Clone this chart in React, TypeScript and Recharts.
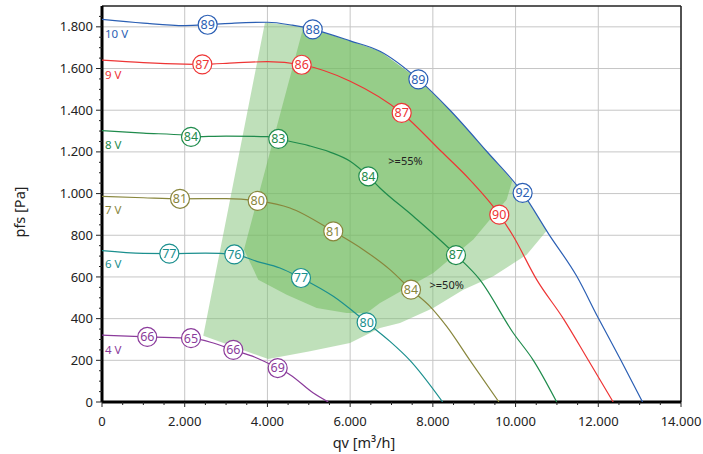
import React from "react";
import {
  ComposedChart,
  Scatter,
  XAxis,
  YAxis,
  CartesianGrid,
  ReferenceLine,
} from "recharts";

const FONT = "'Noto Sans', 'Open Sans', sans-serif";

// fan curves, qv [m3/h] -> pfs [Pa]
const curve10V = [
  { x: 0, y: 1836 }, { x: 1000, y: 1818 }, { x: 2000, y: 1806 }, { x: 2555, y: 1810 },
  { x: 3200, y: 1818 }, { x: 4000, y: 1822 }, { x: 4600, y: 1808 }, { x: 5095, y: 1788 },
  { x: 6000, y: 1733 }, { x: 6721, y: 1683 }, { x: 7650, y: 1548 }, { x: 8415, y: 1400 },
  { x: 9300, y: 1203 }, { x: 10170, y: 1003 }, { x: 10810, y: 803 }, { x: 11480, y: 603 },
  { x: 12000, y: 403 }, { x: 12540, y: 203 }, { x: 13070, y: 0 },
];
const curve9V = [
  { x: 0, y: 1640 }, { x: 1000, y: 1628 }, { x: 2000, y: 1621 }, { x: 2425, y: 1620 },
  { x: 3200, y: 1627 }, { x: 4000, y: 1633 }, { x: 4828, y: 1618 }, { x: 6000, y: 1539 },
  { x: 7246, y: 1387 }, { x: 8200, y: 1203 }, { x: 8897, y: 1066 }, { x: 9606, y: 899 },
  { x: 9945, y: 795 }, { x: 10510, y: 587 }, { x: 11155, y: 400 }, { x: 11760, y: 200 },
  { x: 12360, y: 0 },
];
const curve8V = [
  { x: 0, y: 1302 }, { x: 1000, y: 1290 }, { x: 2000, y: 1280 }, { x: 2152, y: 1272 },
  { x: 3000, y: 1276 }, { x: 4000, y: 1273 }, { x: 4263, y: 1262 }, { x: 5000, y: 1230 },
  { x: 5500, y: 1200 }, { x: 6000, y: 1155 }, { x: 6439, y: 1083 }, { x: 6721, y: 1027 },
  { x: 7527, y: 891 }, { x: 8559, y: 705 }, { x: 9139, y: 586 }, { x: 9945, y: 331 },
  { x: 10430, y: 200 }, { x: 10995, y: 0 },
];
const curve7V = [
  { x: 0, y: 987 }, { x: 1000, y: 980 }, { x: 1886, y: 975 }, { x: 3000, y: 976 },
  { x: 3764, y: 965 }, { x: 4545, y: 931 }, { x: 5592, y: 819 }, { x: 6318, y: 731 },
  { x: 6963, y: 635 }, { x: 7471, y: 539 }, { x: 7930, y: 459 }, { x: 8334, y: 363 },
  { x: 8897, y: 200 }, { x: 9598, y: 0 },
];
const curve6V = [
  { x: 0, y: 726 }, { x: 1000, y: 713 }, { x: 1628, y: 712 }, { x: 2500, y: 714 },
  { x: 3199, y: 708 }, { x: 3740, y: 675 }, { x: 4304, y: 643 }, { x: 4811, y: 595 },
  { x: 5592, y: 507 }, { x: 6399, y: 382 }, { x: 6963, y: 291 }, { x: 7446, y: 200 },
  { x: 8237, y: 0 },
];
const curve4V = [
  { x: 0, y: 321 }, { x: 1095, y: 312 }, { x: 2152, y: 306 }, { x: 2691, y: 283 },
  { x: 3175, y: 250 }, { x: 3700, y: 215 }, { x: 4248, y: 163 }, { x: 4545, y: 131 },
  { x: 5110, y: 43 }, { x: 5472, y: 0 },
];

// circled values on the curves
const tags10V = [{ x: 2555, y: 1810, v: 89 }, { x: 5095, y: 1788, v: 88 }, { x: 7650, y: 1548, v: 89 }, { x: 10170, y: 1003, v: 92 }];
const tags9V = [{ x: 2425, y: 1620, v: 87 }, { x: 4828, y: 1618, v: 86 }, { x: 7246, y: 1387, v: 87 }, { x: 9606, y: 899, v: 90 }];
const tags8V = [{ x: 2152, y: 1272, v: 84 }, { x: 4263, y: 1262, v: 83 }, { x: 6439, y: 1083, v: 84 }, { x: 8559, y: 705, v: 87 }];
const tags7V = [{ x: 1886, y: 975, v: 81 }, { x: 3764, y: 965, v: 80 }, { x: 5592, y: 819, v: 81 }, { x: 7471, y: 539, v: 84 }];
const tags6V = [{ x: 1628, y: 712, v: 77 }, { x: 3199, y: 708, v: 76 }, { x: 4811, y: 595, v: 77 }, { x: 6399, y: 382, v: 80 }];
const tags4V = [{ x: 1095, y: 312, v: 66 }, { x: 2152, y: 306, v: 65 }, { x: 3175, y: 250, v: 66 }, { x: 4248, y: 163, v: 69 }];

// efficiency zones (outline vertices)
const zone50 = [
  { x: 2449, y: 318 }, { x: 3941, y: 1821 }, { x: 4600, y: 1808 }, { x: 5095, y: 1788 },
  { x: 6000, y: 1733 }, { x: 6721, y: 1683 }, { x: 7650, y: 1548 }, { x: 8415, y: 1400 },
  { x: 9300, y: 1203 }, { x: 10170, y: 1003 }, { x: 10752, y: 822 }, { x: 10268, y: 707 },
  { x: 9461, y: 603 }, { x: 8736, y: 539 }, { x: 8010, y: 451 }, { x: 7205, y: 379 },
  { x: 6721, y: 355 }, { x: 5996, y: 283 }, { x: 5029, y: 243 }, { x: 4021, y: 206 },
];
const zone55 = [
  { x: 4867, y: 1797 }, { x: 5095, y: 1788 }, { x: 6000, y: 1733 }, { x: 6721, y: 1683 },
  { x: 7650, y: 1548 }, { x: 8415, y: 1400 }, { x: 9300, y: 1203 }, { x: 9920, y: 1062 },
  { x: 9785, y: 972 }, { x: 8978, y: 780 }, { x: 8010, y: 619 }, { x: 6721, y: 475 },
  { x: 6400, y: 427 }, { x: 5916, y: 427 }, { x: 5191, y: 451 }, { x: 4466, y: 515 },
  { x: 3779, y: 587 }, { x: 3433, y: 731 }, { x: 3561, y: 827 },
];

const voltLabels = [
  { x: 0, y: 1766, t: "10 V", c: "#2b5fb4" },
  { x: 0, y: 1571, t: "9 V", c: "#ee3535" },
  { x: 0, y: 1232, t: "8 V", c: "#1f8b4c" },
  { x: 0, y: 920, t: "7 V", c: "#88863c" },
  { x: 0, y: 662, t: "6 V", c: "#1b8f8e" },
  { x: 0, y: 251, t: "4 V", c: "#8b3b9b" },
];
const zoneLabels = [
  { x: 7338, y: 1155, t: ">=55%" },
  { x: 8334, y: 563, t: ">=50%" },
];

const xMajor = [0, 2000, 4000, 6000, 8000, 10000, 12000, 14000];
const yMajor = [0, 200, 400, 600, 800, 1000, 1200, 1400, 1600, 1800];
const xTicks = Array.from({ length: 29 }, (_, i) => i * 500);
const yTicks = Array.from({ length: 38 }, (_, i) => i * 50);

const curves = [
  { points: curve10V, tags: tags10V, color: "#2b5fb4" },
  { points: curve9V, tags: tags9V, color: "#ee3535" },
  { points: curve8V, tags: tags8V, color: "#1f8b4c" },
  { points: curve7V, tags: tags7V, color: "#88863c" },
  { points: curve6V, tags: tags6V, color: "#1b8f8e" },
  { points: curve4V, tags: tags4V, color: "#8b3b9b" },
];

const fmt = (n: number) =>
  n >= 1000 ? `${Math.floor(n / 1000)}.${String(n % 1000).padStart(3, "0")}` : String(n);

function YTick(props: any) {
  const { x, y, payload } = props;
  const major = payload.value % 200 === 0;
  return (
    <g>
      <line x1={x - (major ? 6 : 3)} x2={x} y1={y} y2={y} stroke="#222" />
      {major && (
        <text x={x - 9} y={y} dy={4.6} textAnchor="end" fontSize={13} fill="#222" fontFamily={FONT}>
          {fmt(payload.value)}
        </text>
      )}
    </g>
  );
}

function XTick(props: any) {
  const { x, y, payload } = props;
  const major = payload.value % 2000 === 0;
  return (
    <g>
      <line x1={x} x2={x} y1={y} y2={y + (major ? 5 : 3)} stroke="#222" />
      {major && (
        <text x={x} y={y} dy={24} textAnchor="middle" fontSize={13} fill="#222" fontFamily={FONT}>
          {fmt(payload.value)}
        </text>
      )}
    </g>
  );
}

const hidden = () => <g />;

const polygonOf = (fill: string, opacity: number) => (p: any) => (
  <polygon
    points={(p.points || []).map((q: any) => `${q.x},${q.y}`).join(" ")}
    fill={fill}
    fillOpacity={opacity}
    stroke="none"
  />
);

const tagShape = (color: string) => (p: any) => (
  <g>
    <circle cx={p.cx} cy={p.cy} r={9.5} fill="#fff" stroke={color} strokeWidth={1.2} />
    <text x={p.cx} y={p.cy} dy={4.4} textAnchor="middle" fontSize={12.5} fill={color} fontFamily={FONT}>
      {p.payload.v}
    </text>
  </g>
);

const voltShape = (p: any) => (
  <text x={p.cx + 3} y={p.cy} dy={4} textAnchor="start" fontSize={11.5} fill={p.payload.c} fontFamily={FONT}>
    {p.payload.t}
  </text>
);

const zoneShape = (p: any) => (
  <text x={p.cx} y={p.cy} dy={4} textAnchor="middle" fontSize={11} fill="#222" fontFamily={FONT}>
    {p.payload.t}
  </text>
);

const xLabel = (p: any) => {
  const vb = p.viewBox || { x: 102, y: 402, width: 579, height: 52 };
  return (
    <text x={vb.x + 262} y={vb.y + 46} textAnchor="middle" fontSize={14.5} fill="#222" fontFamily={FONT}>
      qv [m³/h]
    </text>
  );
};

const yLabel = (p: any) => {
  const vb = p.viewBox || { x: 0, y: 6, width: 102, height: 396 };
  const cx = vb.x + 20;
  const cy = vb.y + vb.height / 2 + 8;
  return (
    <text
      x={cx}
      y={cy}
      dy={5}
      textAnchor="middle"
      fontSize={14.5}
      fill="#222"
      fontFamily={FONT}
      transform={`rotate(-90, ${cx}, ${cy})`}
    >
      pfs [Pa]
    </text>
  );
};

export default function App() {
  return (
    <div style={{ position: "fixed", left: 0, top: 0, width: 703, height: 454, background: "#fff" }}>
      <ComposedChart width={703} height={454} margin={{ top: 6, right: 22, bottom: 0, left: 0 }}>
        <CartesianGrid
          stroke="#c6c6c6"
          horizontalValues={yMajor}
          verticalValues={xMajor}
        />
        <XAxis
          type="number"
          dataKey="x"
          domain={[0, 14000]}
          ticks={xTicks}
          interval={0}
          height={52}
          tickSize={0}
          tickMargin={0}
          tick={<XTick />}
          axisLine={{ stroke: "#000", strokeWidth: 3 }}
          tickLine={false}
          allowDataOverflow
          label={xLabel}
        />
        <YAxis
          type="number"
          dataKey="y"
          domain={[0, 1900]}
          ticks={yTicks}
          interval={0}
          width={102}
          tickSize={0}
          tickMargin={0}
          tick={<YTick />}
          axisLine={{ stroke: "#000", strokeWidth: 3 }}
          tickLine={false}
          allowDataOverflow
          label={yLabel}
        />
        <ReferenceLine y={1900} stroke="#222" strokeWidth={1.5} />
        <ReferenceLine x={14000} stroke="#222" strokeWidth={1.5} />

        <Scatter data={zone50} fill="none" shape={hidden} line={polygonOf("#7fc175", 0.5)} isAnimationActive={false} />
        <Scatter data={zone55} fill="none" shape={hidden} line={polygonOf("#6dba58", 0.5)} isAnimationActive={false} />

        {curves.map((c, i) => (
          <Scatter
            key={`curve-${i}`}
            data={c.points}
            fill={c.color}
            shape={hidden}
            line={{ stroke: c.color, strokeWidth: 1.2 }}
            lineType="joint"
            lineJointType="monotoneX"
            isAnimationActive={false}
          />
        ))}
        {curves.map((c, i) => (
          <Scatter
            key={`tags-${i}`}
            data={c.tags}
            shape={tagShape(c.color)}
            isAnimationActive={false}
          />
        ))}
        <Scatter data={voltLabels} shape={voltShape} isAnimationActive={false} />
        <Scatter data={zoneLabels} shape={zoneShape} isAnimationActive={false} />
      </ComposedChart>
    </div>
  );
}
